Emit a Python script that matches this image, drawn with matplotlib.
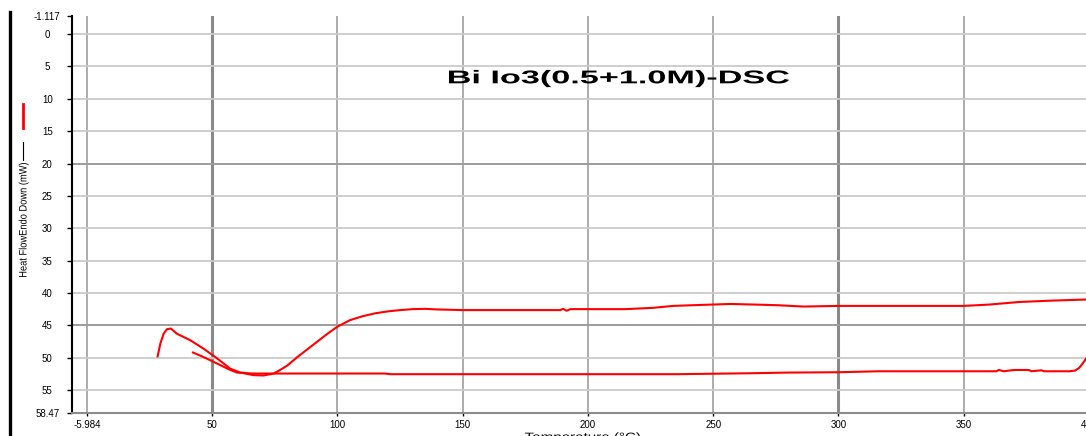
import matplotlib
matplotlib.use("Agg")
import matplotlib.pyplot as plt
from matplotlib.textpath import TextPath
from matplotlib.patches import PathPatch
from matplotlib.font_manager import FontProperties
from matplotlib.transforms import Affine2D
from matplotlib.lines import Line2D

W, H = 1086, 436  # output size, px

# --- data (temperature degC, heat flow mW, endo down) ---
HEAT_T = [28.2, 29.3, 30.6, 31.9, 33.5, 35.9, 41.2, 46.5, 51.9, 57.2, 61.2, 66.5,
          70.5, 74.5, 77.1, 80, 84, 88, 92, 96, 100, 105, 110, 115, 120, 125, 130,
          135, 140, 150, 189, 190, 191.5, 193, 215, 226, 234, 249, 257, 267, 276,
          286, 300, 350, 360, 372, 384, 400]
HEAT_MW = [49.8, 47.8, 46.3, 45.6, 45.5, 46.3, 47.3, 48.6, 50.1, 51.7, 52.3, 52.7,
           52.75, 52.45, 51.9, 51.2, 49.9, 48.7, 47.5, 46.3, 45.2, 44.2, 43.6, 43.15,
           42.85, 42.65, 42.5, 42.45, 42.55, 42.65, 42.65, 42.45, 42.75, 42.5, 42.5,
           42.3, 42.0, 41.8, 41.7, 41.8, 41.9, 42.1, 42.0, 42.0, 41.8, 41.4, 41.2, 41.0]
COOL_T = [42.3, 46.5, 51.9, 57.2, 59.9, 62.5, 66, 119, 121, 168, 236, 266, 280,
          300, 316, 363, 364, 366, 370, 376, 377, 381, 382, 392, 394.4, 396, 397.5, 400]
COOL_MW = [49.2, 49.9, 50.9, 51.9, 52.3, 52.35, 52.45, 52.45, 52.55, 52.55, 52.55, 52.4, 52.3,
           52.25, 52.1, 52.1, 51.9, 52.1, 51.9, 51.9, 52.1, 51.95, 52.1, 52.1, 52.0, 51.6, 50.9, 49.5]

X_TICKS = [0, 50, 100, 150, 200, 250, 300, 350, 400]
X_TICK_LABELS = ["-5.984", "50", "100", "150", "200", "250", "300", "350", "400"]
Y_TICKS = [0, 5, 10, 15, 20, 25, 30, 35, 40, 45, 50, 55]
Y_END_LABELS = ["-1.117", "58.47"]
HEAVY_X = [50, 300]
HEAVY_Y = [20, 45]
X_LIM = (-5.984, 400)
Y_LIM = (58.47, -2.79)

TITLE = "Bi Io3(0.5+1.0M)-DSC"
Y_LABEL = "Heat FlowEndo Down (mW)"
X_LABEL = "Temperature (°C)"

plt.rcParams["font.family"] = "Liberation Sans"


def stretched_text(fig, s, x0, y0, width, cap, rot=0, **fkw):
    """draw s as a path so it can be stretched like the original screenshot.
    x0, y0 = start of baseline in px, y measured from the top."""
    fp = FontProperties(family="Liberation Sans", **fkw)
    tp = TextPath((0, 0), s, size=100, prop=fp)
    ext = tp.get_extents()
    hcap = TextPath((0, 0), "H", size=100, prop=fp).get_extents().height
    tr = (Affine2D().translate(-ext.x0, 0).scale(width / ext.width, cap / hcap)
          .rotate_deg(rot).translate(x0, H - y0))
    tr = tr + Affine2D().scale(1.0 / W, 1.0 / H) + fig.transFigure
    fig.add_artist(PathPatch(tp, transform=tr, fc="black", lw=0))


fig = plt.figure(figsize=(W / 100, H / 100), dpi=100)
ax = fig.add_axes([72 / W, (H - 412.5) / H, (X_LIM[1] - X_LIM[0]) * 2.505 / W, (412.5 - 16) / H])
ax.set_xlim(*X_LIM)
ax.set_ylim(*Y_LIM)

for t in X_TICKS:
    if t in HEAVY_X:
        ax.axvline(t, color="#8a8a8a", lw=2.2, zorder=0)
    else:
        ax.axvline(t, color="#a6a6a6", lw=1.3, zorder=0)
for v in Y_TICKS:
    if v in HEAVY_Y:
        ax.axhline(v, color="#9c9c9c", lw=1.4, zorder=0)
    else:
        ax.axhline(v, color="#cacaca", lw=1.3, zorder=0)

ax.plot(HEAT_T, HEAT_MW, color="#ff0000", lw=1.5)
ax.plot(COOL_T, COOL_MW, color="#ff0000", lw=1.5)

ax.set_xticks(X_TICKS, X_TICK_LABELS)
ax.set_yticks([Y_LIM[1]] + Y_TICKS + [Y_LIM[0]],
              [Y_END_LABELS[0]] + [str(v) for v in Y_TICKS] + [Y_END_LABELS[1]])
ax.tick_params(axis="x", length=2.5, width=1, pad=3, labelsize=7, colors="black")
ax.tick_params(axis="y", length=3.3, width=1, pad=14.5, labelsize=7, colors="black")
for lab in ax.get_yticklabels():
    lab.set_ha("center")

for side in ("top", "right"):
    ax.spines[side].set_visible(False)
ax.spines["left"].set_color("black")
ax.spines["left"].set_linewidth(1.5)
ax.spines["bottom"].set_color("#8c8c8c")
ax.spines["bottom"].set_linewidth(1.5)

# title and axis labels (stretched like the instrument software does)
stretched_text(fig, TITLE, 449, 83.3, 340, 12.7, weight="bold")
stretched_text(fig, Y_LABEL, 26.5, 277, 114, 7.5, rot=90)
stretched_text(fig, X_LABEL, 525, 440.5, 115, 7.8)

# legend swatch next to the y label + left frame bar
fig.add_artist(Line2D([23 / W] * 2, [1 - 104 / H, 1 - 128 / H], color="#ff0000", lw=2))
fig.add_artist(Line2D([23.3 / W] * 2, [1 - 142 / H, 1 - 160 / H], color="black", lw=0.8))
fig.add_artist(Line2D([10 / W] * 2, [1 - 12 / H, 0], color="black", lw=2.4))

fig.savefig("out.png", dpi=100)
